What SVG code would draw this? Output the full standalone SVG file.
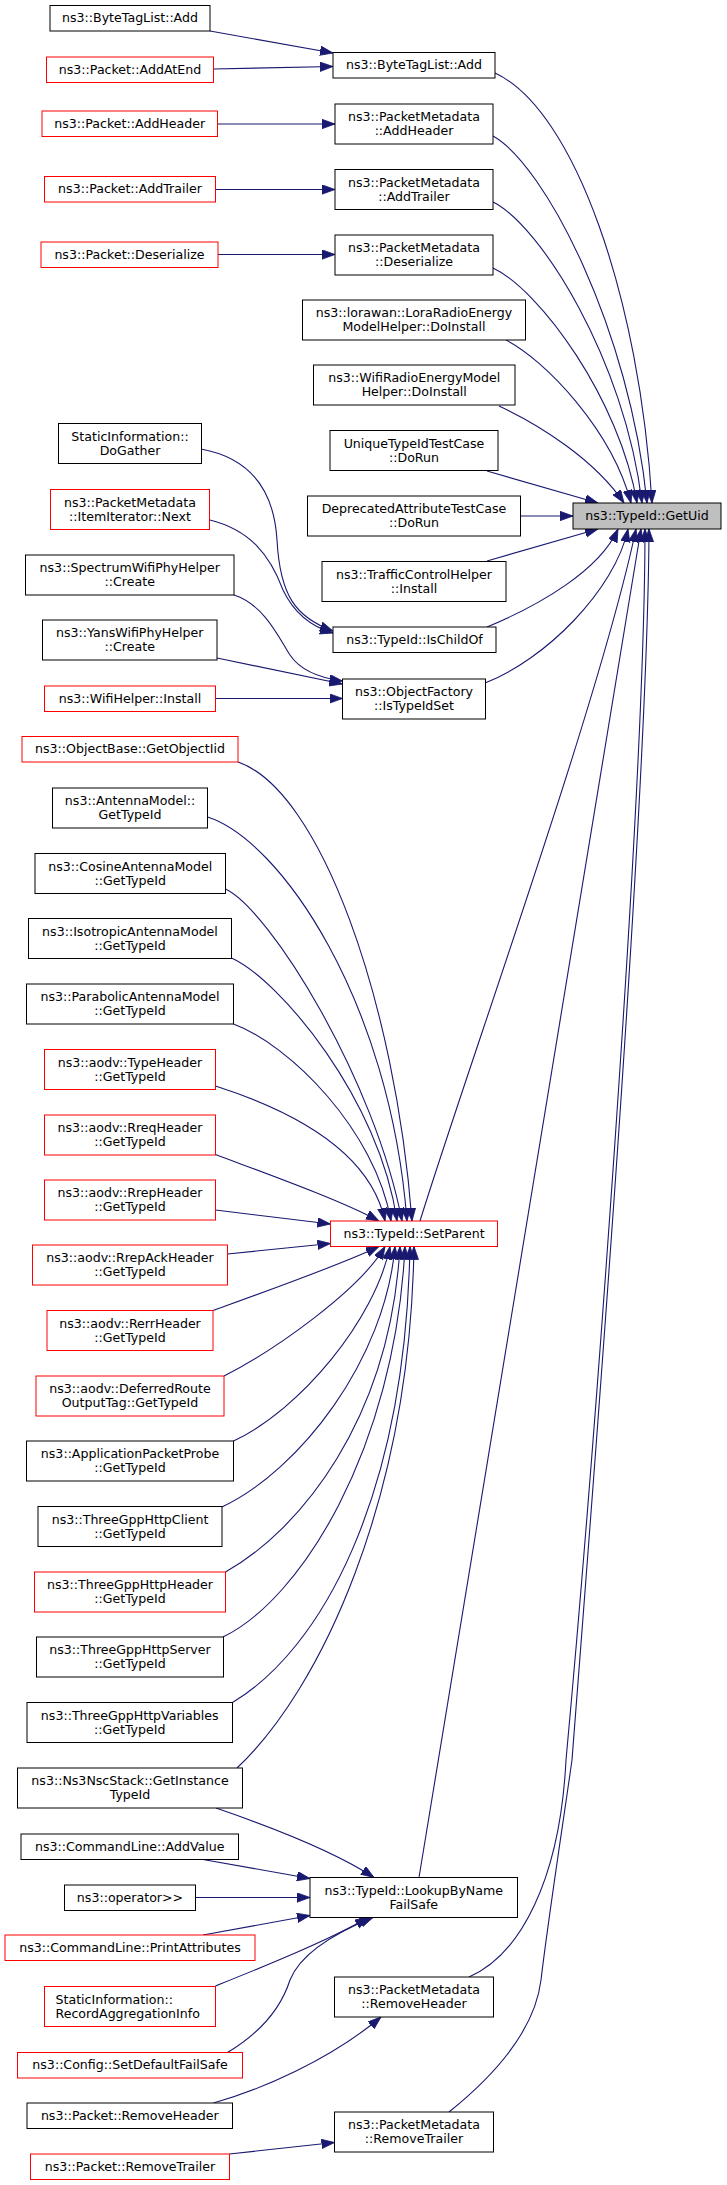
<svg xmlns="http://www.w3.org/2000/svg" width="727" height="2185" viewBox="0 0 727 2185">
<style>
.n rect{fill:#fff;stroke:#000;stroke-width:1}
.n.r rect{stroke:#f00}
.n.g rect{fill:#bfbfbf}
text{font-family:"DejaVu Sans","Liberation Sans",sans-serif;font-size:12.6px;fill:#000;text-anchor:middle}
#edges path{fill:none;stroke:#191970;stroke-width:1.1;marker-end:url(#a)}
</style>
<defs>
<marker id="a" markerUnits="userSpaceOnUse" markerWidth="14" markerHeight="10" refX="13" refY="4.7" orient="auto">
<path d="M0,0 L13,4.7 L0,9.4 z" fill="#191970" stroke="#191970" stroke-width="0.8"/>
</marker>
</defs>
<rect x="0" y="0" width="727" height="2185" fill="#fff"/>
<g id="edges">
<path d="M210,31 L333,53"/>
<path d="M213.5,69 L333,66.5"/>
<path d="M217.5,124 L335,124"/>
<path d="M215.5,189.5 L335,189.5"/>
<path d="M218,254.5 L335,254.5"/>
<path d="M495,73 C575,110 640,300 652,503"/>
<path d="M493,136 C545,165 630,330 647,503"/>
<path d="M493,202 C540,225 625,360 642,503"/>
<path d="M493,268 C540,290 620,400 637,503"/>
<path d="M506,340 C545,360 612,430 631,503"/>
<path d="M499,406 C540,425 595,460 624,503"/>
<path d="M487,471 L598,503"/>
<path d="M520.5,516 L573,516"/>
<path d="M487,561 L598,529"/>
<path d="M487,627 C540,605 600,570 618,529"/>
<path d="M485,683 C545,660 615,590 628,529"/>
<path d="M420,1221 C470,1060 600,700 636,529"/>
<path d="M419,1877.5 L641,529"/>
<path d="M469,1977 C520,1955 560,1880 566,1760 C590,1500 645,800 645,529"/>
<path d="M449,2112 C495,2075 535,2030 541,1980 C548,1920 565,1810 572,1760 C592,1500 648,800 649,529"/>
<path d="M201,449 C250,458 274,490 277,540 C280,595 295,617 333,631"/>
<path d="M210,520 C250,530 270,555 283,590 C295,615 312,627 333,633"/>
<path d="M234,595 C265,605 280,640 290,655 C300,670 320,678 342.5,681"/>
<path d="M217,658 L342.5,684"/>
<path d="M215.5,698.5 L342.5,698.5"/>
<path d="M238,762 C320,790 395,1000 412,1221"/>
<path d="M207.5,817 C280,840 390,1000 407,1221"/>
<path d="M225.5,889 C270,910 375,1080 402,1221"/>
<path d="M231.5,958 C280,980 380,1100 397,1221"/>
<path d="M233.5,1024 C290,1045 375,1130 391,1221"/>
<path d="M215.5,1086 C290,1110 370,1150 385,1221"/>
<path d="M215.5,1154.5 C270,1175 340,1200 379,1221"/>
<path d="M215.5,1210 L330.5,1224"/>
<path d="M227.5,1254 L330.5,1243.5"/>
<path d="M213,1310.5 C270,1290 340,1265 379,1246.5"/>
<path d="M224,1376 C275,1350 360,1290 385,1246.5"/>
<path d="M233.5,1441 C300,1410 375,1320 390,1246.5"/>
<path d="M222,1507 C300,1470 385,1360 395,1246.5"/>
<path d="M225.5,1572 C300,1530 390,1420 400,1246.5"/>
<path d="M223,1637 C300,1600 395,1450 405,1246.5"/>
<path d="M232.5,1702.5 C320,1650 405,1500 410,1246.5"/>
<path d="M237,1768 C320,1690 410,1500 414,1246.5"/>
<path d="M216,1808 C280,1830 340,1855 374,1877.5"/>
<path d="M203,1859.5 L310,1878.5"/>
<path d="M195.5,1897.5 L310,1897.5"/>
<path d="M203,1935 L310,1915.5"/>
<path d="M215.5,1986 C260,1968 330,1940 368,1917.5"/>
<path d="M227.5,2052.5 C265,2030 282,2005 290,1980 C300,1955 330,1935 373,1917.5"/>
<path d="M213.5,2103 C260,2090 330,2060 381,2017"/>
<path d="M229.5,2154 L334.5,2142.5"/>
</g>
<g id="n1" class="n"><rect x="50" y="5.5" width="160" height="25.5"/><text x="130" y="22">ns3::ByteTagList::Add</text></g>
<g id="n2" class="n r"><rect x="46.5" y="57" width="167" height="25.5"/><text x="130" y="73.5">ns3::Packet::AddAtEnd</text></g>
<g id="n3" class="n"><rect x="333" y="52.5" width="162" height="25.5"/><text x="414" y="69">ns3::ByteTagList::Add</text></g>
<g id="n4" class="n r"><rect x="42" y="111" width="175.5" height="25.5"/><text x="129.75" y="127.5">ns3::Packet::AddHeader</text></g>
<g id="n5" class="n"><rect x="335" y="104" width="158" height="40"/><text x="414" y="121">ns3::PacketMetadata</text><text x="414" y="135">::AddHeader</text></g>
<g id="n6" class="n r"><rect x="44.5" y="176.5" width="171" height="25.5"/><text x="130" y="193">ns3::Packet::AddTrailer</text></g>
<g id="n7" class="n"><rect x="335" y="169.5" width="158" height="40"/><text x="414" y="186.5">ns3::PacketMetadata</text><text x="414" y="200.5">::AddTrailer</text></g>
<g id="n8" class="n r"><rect x="41" y="242" width="177" height="25.5"/><text x="129.5" y="258.5">ns3::Packet::Deserialize</text></g>
<g id="n9" class="n"><rect x="335" y="235" width="158" height="40"/><text x="414" y="252">ns3::PacketMetadata</text><text x="414" y="266">::Deserialize</text></g>
<g id="n10" class="n"><rect x="302.5" y="300" width="223" height="40"/><text x="414" y="317">ns3::lorawan::LoraRadioEnergy</text><text x="414" y="331">ModelHelper::DoInstall</text></g>
<g id="n11" class="n"><rect x="313.5" y="365" width="201.5" height="40"/><text x="414.25" y="382">ns3::WifiRadioEnergyModel</text><text x="414.25" y="396">Helper::DoInstall</text></g>
<g id="n12" class="n"><rect x="58.5" y="423.5" width="143" height="40"/><text x="130" y="440.5">StaticInformation::</text><text x="130" y="454.5">DoGather</text></g>
<g id="n13" class="n"><rect x="330" y="430.5" width="168" height="40"/><text x="414" y="447.5">UniqueTypeIdTestCase</text><text x="414" y="461.5">::DoRun</text></g>
<g id="n14" class="n r"><rect x="50.5" y="489.5" width="159" height="40"/><text x="130" y="506.5">ns3::PacketMetadata</text><text x="130" y="520.5">::ItemIterator::Next</text></g>
<g id="n15" class="n"><rect x="307.5" y="496" width="213" height="40"/><text x="414" y="513">DeprecatedAttributeTestCase</text><text x="414" y="527">::DoRun</text></g>
<g id="n16" class="n g"><rect x="573" y="503" width="148" height="26"/><text x="647" y="519.5">ns3::TypeId::GetUid</text></g>
<g id="n17" class="n"><rect x="25.5" y="555" width="208.5" height="40"/><text x="129.75" y="572">ns3::SpectrumWifiPhyHelper</text><text x="129.75" y="586">::Create</text></g>
<g id="n18" class="n"><rect x="322" y="561.5" width="184" height="40"/><text x="414" y="578.5">ns3::TrafficControlHelper</text><text x="414" y="592.5">::Install</text></g>
<g id="n19" class="n"><rect x="42.5" y="620" width="174.5" height="40"/><text x="129.75" y="637">ns3::YansWifiPhyHelper</text><text x="129.75" y="651">::Create</text></g>
<g id="n20" class="n"><rect x="333" y="627" width="163" height="25.5"/><text x="414.5" y="643.5">ns3::TypeId::IsChildOf</text></g>
<g id="n21" class="n"><rect x="342.5" y="679" width="143" height="40"/><text x="414" y="696">ns3::ObjectFactory</text><text x="414" y="710">::IsTypeIdSet</text></g>
<g id="n22" class="n r"><rect x="44.5" y="686" width="171" height="25.5"/><text x="130" y="702.5">ns3::WifiHelper::Install</text></g>
<g id="n23" class="n r"><rect x="22" y="736.5" width="216" height="25.5"/><text x="130" y="753">ns3::ObjectBase::GetObjectIid</text></g>
<g id="n24" class="n"><rect x="52.5" y="788" width="155" height="40"/><text x="130" y="805">ns3::AntennaModel::</text><text x="130" y="819">GetTypeId</text></g>
<g id="n25" class="n"><rect x="35" y="853.5" width="190.5" height="40"/><text x="130.25" y="870.5">ns3::CosineAntennaModel</text><text x="130.25" y="884.5">::GetTypeId</text></g>
<g id="n26" class="n"><rect x="28.5" y="918.5" width="203" height="40"/><text x="130" y="935.5">ns3::IsotropicAntennaModel</text><text x="130" y="949.5">::GetTypeId</text></g>
<g id="n27" class="n"><rect x="26.5" y="984" width="207" height="40"/><text x="130" y="1001">ns3::ParabolicAntennaModel</text><text x="130" y="1015">::GetTypeId</text></g>
<g id="n28" class="n r"><rect x="44.5" y="1049.5" width="171" height="40"/><text x="130" y="1066.5">ns3::aodv::TypeHeader</text><text x="130" y="1080.5">::GetTypeId</text></g>
<g id="n29" class="n r"><rect x="44.5" y="1115" width="171" height="40"/><text x="130" y="1132">ns3::aodv::RreqHeader</text><text x="130" y="1146">::GetTypeId</text></g>
<g id="n30" class="n r"><rect x="44.5" y="1180" width="171" height="40"/><text x="130" y="1197">ns3::aodv::RrepHeader</text><text x="130" y="1211">::GetTypeId</text></g>
<g id="n31" class="n r"><rect x="330.5" y="1221" width="167" height="25.5"/><text x="414" y="1237.5">ns3::TypeId::SetParent</text></g>
<g id="n32" class="n r"><rect x="32.5" y="1245" width="195" height="40"/><text x="130" y="1262">ns3::aodv::RrepAckHeader</text><text x="130" y="1276">::GetTypeId</text></g>
<g id="n33" class="n r"><rect x="47" y="1310.5" width="166" height="40"/><text x="130" y="1327.5">ns3::aodv::RerrHeader</text><text x="130" y="1341.5">::GetTypeId</text></g>
<g id="n34" class="n r"><rect x="36" y="1376" width="188" height="40"/><text x="130" y="1393">ns3::aodv::DeferredRoute</text><text x="130" y="1407">OutputTag::GetTypeId</text></g>
<g id="n35" class="n"><rect x="26.5" y="1441" width="207" height="40"/><text x="130" y="1458">ns3::ApplicationPacketProbe</text><text x="130" y="1472">::GetTypeId</text></g>
<g id="n36" class="n"><rect x="38" y="1506.5" width="184" height="40"/><text x="130" y="1523.5">ns3::ThreeGppHttpClient</text><text x="130" y="1537.5">::GetTypeId</text></g>
<g id="n37" class="n r"><rect x="34.5" y="1572" width="191" height="40"/><text x="130" y="1589">ns3::ThreeGppHttpHeader</text><text x="130" y="1603">::GetTypeId</text></g>
<g id="n38" class="n"><rect x="36.5" y="1637" width="187" height="40"/><text x="130" y="1654">ns3::ThreeGppHttpServer</text><text x="130" y="1668">::GetTypeId</text></g>
<g id="n39" class="n"><rect x="27" y="1702.5" width="205.5" height="40"/><text x="129.75" y="1719.5">ns3::ThreeGppHttpVariables</text><text x="129.75" y="1733.5">::GetTypeId</text></g>
<g id="n40" class="n"><rect x="17.5" y="1768" width="225" height="40"/><text x="130" y="1785">ns3::Ns3NscStack::GetInstance</text><text x="130" y="1799">TypeId</text></g>
<g id="n41" class="n"><rect x="21" y="1834" width="217.5" height="25.5"/><text x="129.75" y="1850.5">ns3::CommandLine::AddValue</text></g>
<g id="n42" class="n"><rect x="310" y="1877.5" width="207.5" height="40"/><text x="413.75" y="1894.5">ns3::TypeId::LookupByName</text><text x="413.75" y="1908.5">FailSafe</text></g>
<g id="n43" class="n"><rect x="64.5" y="1885" width="131" height="25.5"/><text x="130" y="1901.5">ns3::operator&gt;&gt;</text></g>
<g id="n44" class="n r"><rect x="5" y="1935" width="250" height="25.5"/><text x="130" y="1951.5">ns3::CommandLine::PrintAttributes</text></g>
<g id="n45" class="n"><rect x="334.5" y="1977" width="159" height="40"/><text x="414" y="1994">ns3::PacketMetadata</text><text x="414" y="2008">::RemoveHeader</text></g>
<g id="n46" class="n r"><rect x="44.5" y="1986.5" width="171" height="40"/><text x="55.5" y="2003.5" style="text-anchor:start">StaticInformation::</text><text x="55.5" y="2017.5" style="text-anchor:start">RecordAggregationInfo</text></g>
<g id="n47" class="n r"><rect x="17.5" y="2052.5" width="225" height="25.5"/><text x="130" y="2069">ns3::Config::SetDefaultFailSafe</text></g>
<g id="n48" class="n"><rect x="27" y="2103" width="205.5" height="25.5"/><text x="129.75" y="2119.5">ns3::Packet::RemoveHeader</text></g>
<g id="n49" class="n"><rect x="334.5" y="2112" width="159" height="40"/><text x="414" y="2129">ns3::PacketMetadata</text><text x="414" y="2143">::RemoveTrailer</text></g>
<g id="n50" class="n r"><rect x="30.5" y="2154" width="199" height="25.5"/><text x="130" y="2170.5">ns3::Packet::RemoveTrailer</text></g>
</svg>
